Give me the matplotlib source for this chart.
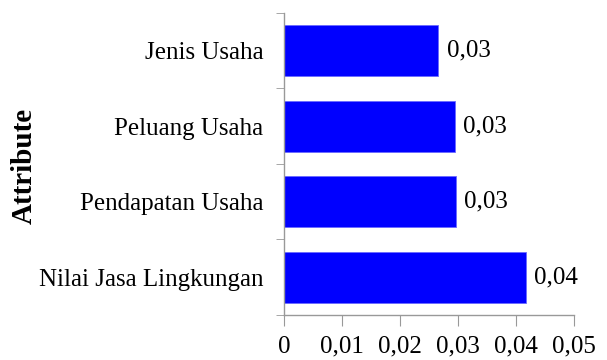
import matplotlib
matplotlib.use("Agg")
import matplotlib.pyplot as plt
from matplotlib.ticker import FixedLocator

# Attribute weights
attributes = ["Nilai Jasa Lingkungan", "Pendapatan Usaha", "Peluang Usaha", "Jenis Usaha"]
weights = [0.0417, 0.0296, 0.0295, 0.0266]
x_ticks = [0, 0.01, 0.02, 0.03, 0.04, 0.05]
x_tick_labels = ["0", "0,01", "0,02", "0,03", "0,04", "0,05"]

plt.rcParams["font.family"] = ["Liberation Serif", "DejaVu Serif"]
FS = 18

fig = plt.figure(figsize=(6.07, 3.6), dpi=100)
ax = fig.add_axes([0.468, 0.125, 0.478, 0.839])

pos = list(range(len(attributes)))
ax.barh(pos, weights, height=0.68, color="#0000FF", edgecolor="#6a6aff", linewidth=0.6)

for p, w in zip(pos, weights):
    ax.text(w + 0.0014, p, f"{w:.2f}".replace(".", ","), va="center", ha="left",
            fontsize=FS, color="black")

ax.set_xlim(0, 0.05)
ax.set_ylim(-0.5, len(attributes) - 0.5)

ax.set_xticks(x_ticks)
ax.set_xticklabels(x_tick_labels, fontsize=FS)
ax.set_yticks(pos)
ax.set_yticklabels(attributes, fontsize=FS)
ax.tick_params(axis="y", which="major", length=0, pad=15)
ax.yaxis.set_minor_locator(FixedLocator([p - 0.5 for p in pos] + [len(attributes) - 0.5]))
ax.tick_params(axis="y", which="minor", length=6, color="#999999", direction="out")
ax.tick_params(axis="x", length=8, color="#999999", pad=7)

for side in ("top", "right"):
    ax.spines[side].set_visible(False)
for side in ("left", "bottom"):
    ax.spines[side].set_color("#999999")
    ax.spines[side].set_linewidth(1.0)

fig.text(0.040, 0.54, "Attribute", rotation=90, fontsize=21, fontweight="bold",
         ha="center", va="center")

fig.savefig("out.png", dpi=100)
